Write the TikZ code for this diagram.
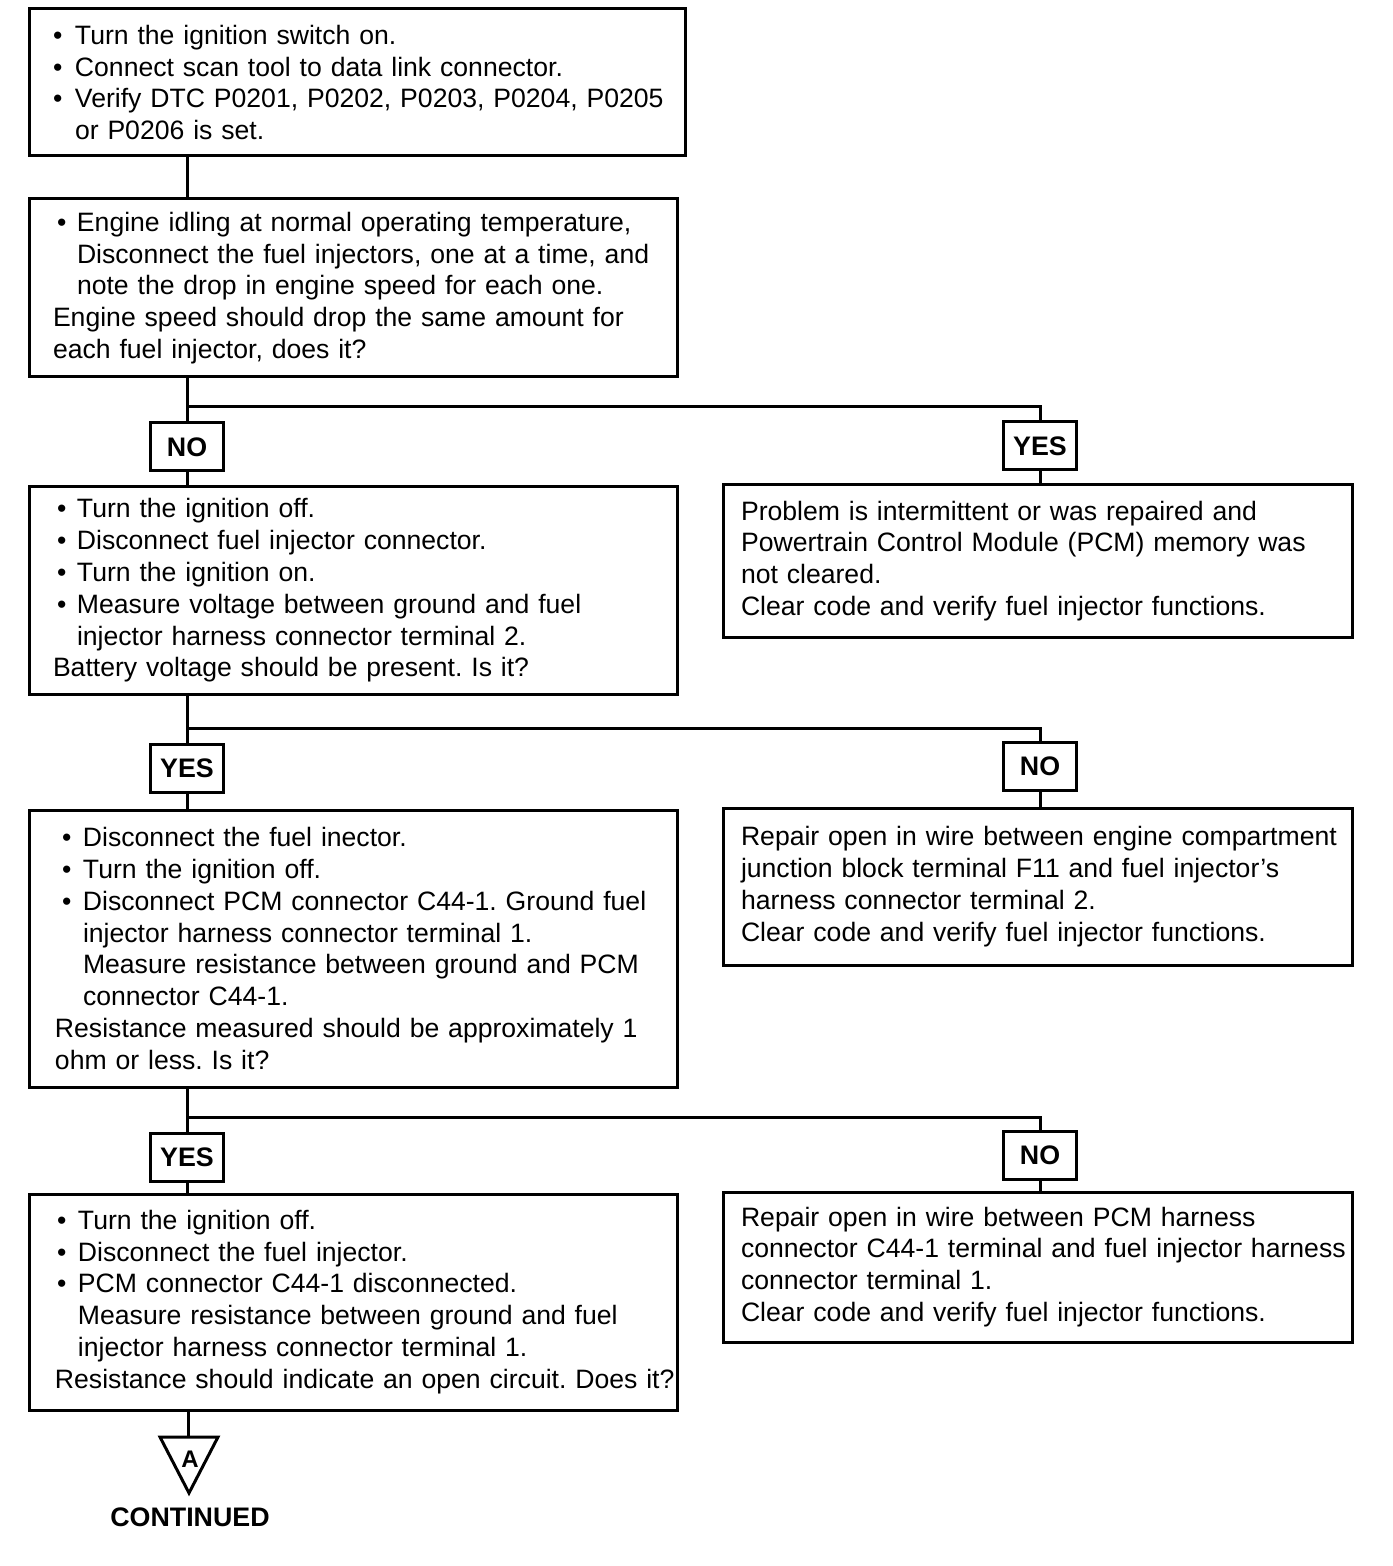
\documentclass[tikz,border=0pt]{standalone}
\usepackage{fontspec}
\setmainfont{Liberation Sans}
\frenchspacing
\newcommand\bl[2]{\hspace*{#1}\makebox[#2][l]{\textbullet}}
\tikzset{
  box/.style={draw, line width=1.5pt, inner xsep=0pt, inner ysep=0pt, align=left,
    font=\fontsize{13.3pt}{15.9pt}\selectfont},
  lbox/.style={box, text width=324pt},
  rbox/.style={box, text width=314.5pt},
  lbl/.style={draw, line width=1.5pt, inner sep=0pt, minimum width=36.5pt, minimum height=24pt,
    font=\fontsize{13.4pt}{15.9pt}\selectfont\bfseries},
  conn/.style={line width=1.5pt}
}
\begin{document}
\begin{tikzpicture}[x=0.5pt,y=-0.5pt]
\useasboundingbox[fill=white] (0,0) rectangle (1392,1566);
\coordinate (L) at (187,0);
\coordinate (R) at (1040,0);

\node[lbox, text width=328pt, minimum height=73.5pt] (b1) at (357,82.5) {%
\bl{12pt}{11pt}Turn the ignition switch on.\\
\bl{12pt}{11pt}Connect scan tool to data link connector.\\
\bl{12pt}{11pt}\mbox{Verify DTC P0201, P0202, P0203, P0204, P0205}\\
\hspace*{23pt}or P0206 is set.};

\node[lbox, minimum height=89pt] (b2) at (353,288) {%
\bl{14pt}{10pt}\mbox{Engine idling at normal operating temperature,}\\
\hspace*{24pt}\mbox{Disconnect the fuel injectors, one at a time, and}\\
\hspace*{24pt}note the drop in engine speed for each one.\\
\hspace*{12pt}Engine speed should drop the same amount for\\
\hspace*{12pt}each fuel injector, does it?};

\coordinate (j1) at (187,407);
\node[lbl] (no1) at (187,447) {NO};
\node[lbl] (yes1) at (1040,446) {YES};

\node[lbox, minimum height=103.5pt] (b3) at (353,590.5) {%
\bl{14pt}{10pt}Turn the ignition off.\\
\bl{14pt}{10pt}Disconnect fuel injector connector.\\
\bl{14pt}{10pt}Turn the ignition on.\\
\bl{14pt}{10pt}Measure voltage between ground and fuel\\
\hspace*{24pt}injector harness connector terminal 2.\\
\hspace*{12pt}Battery voltage should be present. Is it?};

\node[rbox, minimum height=76pt] (r3) at (1037.5,561) {%
\hspace*{9pt}Problem is intermittent or was repaired and\\
\hspace*{9pt}\mbox{Powertrain Control Module (PCM) memory was}\\
\hspace*{9pt}not cleared.\\
\hspace*{9pt}Clear code and verify fuel injector functions.};

\coordinate (j2) at (187,728);
\node[lbl] (yes2) at (187,768.5) {YES};
\node[lbl] (no2) at (1040,766.5) {NO};

\node[lbox, minimum height=138.5pt] (b4) at (353,948.5) {%
\bl{16.5pt}{10.5pt}Disconnect the fuel inector.\\
\bl{16.5pt}{10.5pt}Turn the ignition off.\\
\bl{16.5pt}{10.5pt}\mbox{Disconnect PCM connector C44-1. Ground fuel}\\
\hspace*{27pt}injector harness connector terminal 1.\\
\hspace*{27pt}\mbox{Measure resistance between ground and PCM}\\
\hspace*{27pt}connector C44-1.\\
\hspace*{13pt}\mbox{Resistance measured should be approximately 1}\\
\hspace*{13pt}ohm or less. Is it?};

\node[rbox, minimum height=78.5pt] (r4) at (1037.5,886.5) {%
\hspace*{9pt}\mbox{Repair open in wire between engine compartment}\\
\hspace*{9pt}junction block terminal F11 and fuel injector's\\
\hspace*{9pt}harness connector terminal 2.\\
\hspace*{9pt}Clear code and verify fuel injector functions.};

\coordinate (j3) at (187,1117);
\node[lbl] (yes3) at (187,1157.5) {YES};
\node[lbl] (no3) at (1040,1155.5) {NO};

\node[lbox, minimum height=108pt] (b5) at (353,1302) {%
\bl{14pt}{10.5pt}Turn the ignition off.\\
\bl{14pt}{10.5pt}Disconnect the fuel injector.\\
\bl{14pt}{10.5pt}PCM connector C44-1 disconnected.\\
\hspace*{24.5pt}Measure resistance between ground and fuel\\
\hspace*{24.5pt}injector harness connector terminal 1.\\
\hspace*{13pt}\mbox{Resistance should indicate an open circuit. Does it?}};

\node[rbox, minimum height=75pt] (r5) at (1037.5,1267) {%
\hspace*{9pt}Repair open in wire between PCM harness\\
\hspace*{9pt}\mbox{connector C44-1 terminal and fuel injector harness}\\
\hspace*{9pt}connector terminal 1.\\
\hspace*{9pt}Clear code and verify fuel injector functions.};

% continuation triangle
\coordinate (tri) at (188,1437);
\draw[line width=1.5pt, line join=miter] (160,1437) -- (218,1437) -- (189,1493) -- cycle;
\node[font=\fontsize{12pt}{14pt}\selectfont\bfseries, inner sep=0pt] (A) at (190,1459) {A};
\node[font=\fontsize{13.4pt}{15.9pt}\selectfont\bfseries, inner sep=0pt] (cont) at (190,1517) {CONTINUED};

% connectors
\draw[conn] (b1.south -| L) -- (b2.north -| L);
\draw[conn] (b2.south -| L) -- (no1.north);
\draw[conn] (j1) -| (yes1.north);
\draw[conn] (no1.south) -- (b3.north -| L);
\draw[conn] (yes1.south) -- (r3.north -| R);

\draw[conn] (b3.south -| L) -- (yes2.north);
\draw[conn] (j2) -| (no2.north);
\draw[conn] (yes2.south) -- (b4.north -| L);
\draw[conn] (no2.south) -- (r4.north -| R);

\draw[conn] (b4.south -| L) -- (yes3.north);
\draw[conn] (j3) -| (no3.north);
\draw[conn] (yes3.south) -- (b5.north -| L);
\draw[conn] (no3.south) -- (r5.north -| R);

\draw[conn] (b5.south -| tri) -- (tri);
\end{tikzpicture}
\end{document}
